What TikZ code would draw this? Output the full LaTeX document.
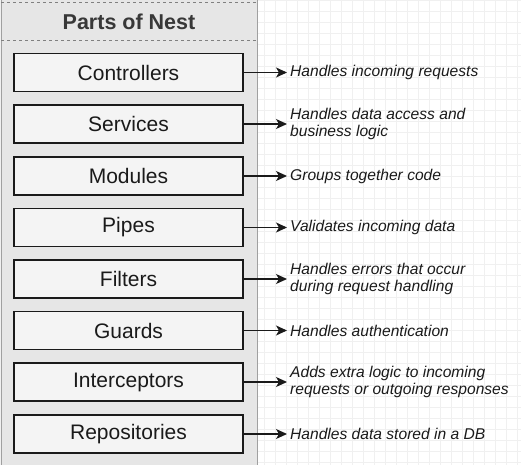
\documentclass[tikz,border=0pt]{standalone}
\usepackage{fontspec}
\setmainfont{Liberation Sans}
\usetikzlibrary{arrows.meta}
\definecolor{panelgray}{HTML}{E6E6E6}
\definecolor{boxfill}{HTML}{F4F4F4}
\definecolor{gridc}{HTML}{F0F0F0}
\definecolor{edgec}{HTML}{A0A0A0}
\definecolor{inkc}{HTML}{1A1A1A}
\tikzset{
  part/.style={draw=inkc, line width=1.4pt, fill=boxfill, minimum width=229pt, minimum height=38pt, inner sep=0pt, font=\fontsize{21}{24}\selectfont, text=inkc},
  desc/.style={anchor=west, align=left, inner sep=0pt, font=\fontsize{15.6}{17.5}\selectfont\itshape, text=inkc},
  link/.style={draw=inkc, line width=1.1pt, -{Stealth[length=11pt,width=10pt,inset=3pt]}}
}
\begin{document}
\begin{tikzpicture}[x=1pt,y=-1pt]
\useasboundingbox (0,0) rectangle (521,465);
\fill[white] (0,0) rectangle (521,465);
\draw[gridc, line width=0.6pt] (0,0) grid[step=11pt] (521,465);
% container panel
\fill[panelgray] (1,0) rectangle (257,465);
\draw[edgec, line width=1pt] (1,0) -- (1,465);
\draw[edgec, line width=1pt] (257,0) -- (257,465);
% title band
\draw[edgec!80!black, dashed, line width=0.8pt] (1,2) -- (257,2);
\draw[edgec!80!black, dashed, line width=0.8pt] (1,40) -- (257,40);
\node[font=\fontsize{21.5}{24}\selectfont\bfseries, text=black!78] (title) at (129,22) {Parts of Nest};
% parts
\node[part] (p1) at (128.5,72.5) {Controllers};
\node[part] (p2) at (128.5,124) {Services};
\node[part] (p3) at (128.5,176) {Modules};
\node[part] (p4) at (128.5,227.5) {Pipes};
\node[part] (p5) at (128.5,279) {Filters};
\node[part] (p6) at (128.5,330.5) {Guards};
\node[part] (p7) at (128.5,382) {Interceptors};
\node[part] (p8) at (128.5,434) {Repositories};
% descriptions
\node[desc] (d1) at (290,72.5) {Handles incoming requests};
\node[desc] (d2) at (290,124) {Handles data access and\\business logic};
\node[desc] (d3) at (290,176) {Groups together code};
\node[desc] (d4) at (290,227.5) {Validates incoming data};
\node[desc] (d5) at (290,279) {Handles errors that occur\\during request handling};
\node[desc] (d6) at (290,330.5) {Handles authentication};
\node[desc] (d7) at (290,382) {Adds extra logic to incoming\\requests or outgoing responses};
\node[desc] (d8) at (290,434) {Handles data stored in a DB};
% connectors
\foreach \i in {1,...,8} {
  \draw[link] (p\i.east) -- ([xshift=-3pt]d\i.west);
}
\end{tikzpicture}
\end{document}
